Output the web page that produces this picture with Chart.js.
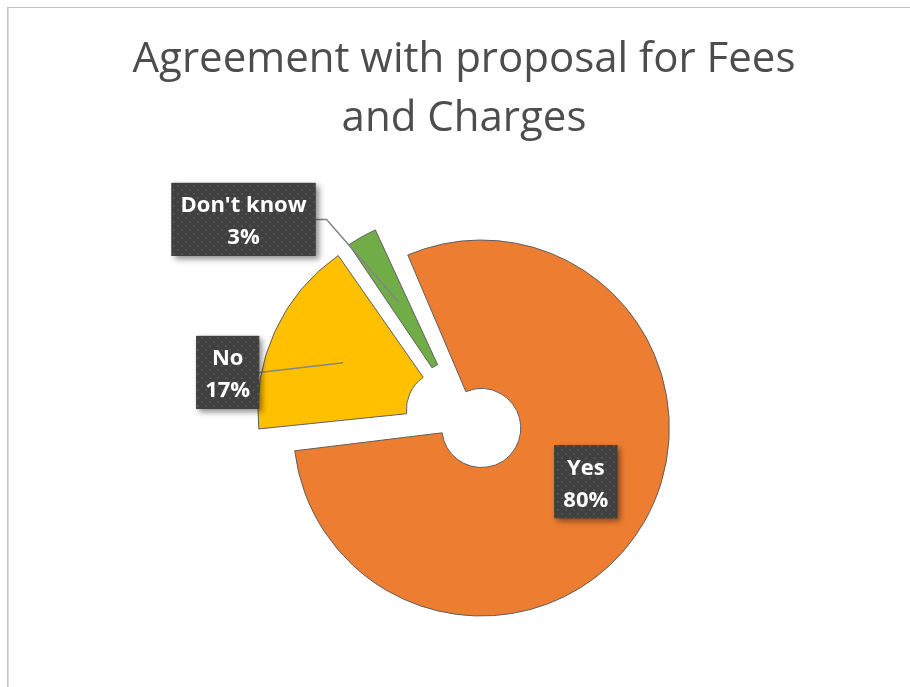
<!DOCTYPE html>
<html><head><meta charset="utf-8">
<script src="https://cdn.jsdelivr.net/npm/chart.js@4/dist/chart.umd.min.js"></script>
<style>html,body{margin:0;padding:0;background:#fff;} #wrap{width:910px;height:687px;position:relative;}</style>
</head><body><div id="wrap"><canvas id="c" width="910" height="687"></canvas></div>
<script>
const categories = ["Yes", "No", "Don't know"];
const percentValues = [80, 17, 3];
const titleLines = ["Agreement with proposal for Fees", "and Charges"];
const sliceColors = ["#ED7D31", "#FFC000", "#70AD47"];

const EXPLODE = 20;           // px translation of each exploded slice
const OUTER_R = 188;
const LABEL_FONT = 'bold 22px "Open Sans"';
const labelPlacement = [
  {angle: -2.8, dist: 0.625, leader: false},
  {angle: -14.9, dist: 1.177, leader: true, anchor: 0.6, elbow: 0},
  {angle: -19.9, dist: 1.478, leader: true, anchor: 0.6, elbow: 11}
];

function makePattern(ctx) {
  const t = document.createElement('canvas');
  t.width = 8; t.height = 8;
  const c = t.getContext('2d');
  c.fillStyle = '#404040'; c.fillRect(0, 0, 8, 8);
  c.fillStyle = '#525252';
  c.fillRect(1, 1, 2, 2);
  c.fillRect(5, 5, 2, 2);
  return ctx.createPattern(t, 'repeat');
}

const frame = {
  id: 'frame',
  beforeDraw(chart) {
    const ctx = chart.ctx;
    ctx.save();
    ctx.fillStyle = '#fff'; ctx.fillRect(0, 0, chart.width, chart.height);
    ctx.fillStyle = '#c4c4c4';
    ctx.fillRect(7, 7, chart.width - 7, 1);
    ctx.fillRect(7, 7, 1, chart.height - 7);
    ctx.fillStyle = '#dadada';
    ctx.fillRect(8, 8, 1, chart.height - 8);
    ctx.restore();
  }
};

// keep exploded slices at the same radius (Chart.js grows large arcs by their offset)
function radiusGrowth(arc) {
  const off = (arc.options.offset || 0) / 4;
  const fix = 1 - Math.sin(Math.min(Math.PI, arc.circumference || 0));
  return off * fix;
}
const explodeFix = {
  id: 'explodeFix',
  afterDatasetUpdate(chart, args) {
    args.meta.data.forEach(arc => {
      const g = radiusGrowth(arc);
      arc.outerRadius -= g;
      if (arc.innerRadius > 0) arc.innerRadius -= g;
    });
  }
};

const labels = {
  id: 'sliceLabels',
  afterDatasetsDraw(chart) {
    const ctx = chart.ctx;
    const meta = chart.getDatasetMeta(0);
    const pattern = makePattern(ctx);
    ctx.save();
    ctx.font = LABEL_FONT;
    const boxes = meta.data.map((arc, i) => {
      const p = labelPlacement[i];
      const mid = (arc.startAngle + arc.endAngle) / 2;
      const R = arc.outerRadius + radiusGrowth(arc);
      const sx = arc.x + Math.cos(mid) * EXPLODE;
      const sy = arc.y + Math.sin(mid) * EXPLODE;
      const a = mid + p.angle * Math.PI / 180;
      const lx = sx + Math.cos(a) * p.dist * R;
      const ly = sy + Math.sin(a) * p.dist * R;
      const lines = [categories[i], percentValues[i] + '%'];
      const w = Math.max(...lines.map(l => ctx.measureText(l).width)) + 18;
      const h = 73;
      return {i, p, mid, R, sx, sy, lx, ly, lines, w, h};
    });
    // leader lines
    ctx.strokeStyle = '#858585';
    ctx.lineWidth = 1.5;
    boxes.forEach(b => {
      if (!b.p.leader) return;
      const ax = b.sx + Math.cos(b.mid) * b.p.anchor * b.R;
      const ay = b.sy + Math.sin(b.mid) * b.p.anchor * b.R;
      const x0 = b.lx + b.w / 2;
      ctx.beginPath();
      ctx.moveTo(x0, b.ly);
      if (b.p.elbow) ctx.lineTo(x0 + b.p.elbow, b.ly);
      ctx.lineTo(ax, ay);
      ctx.stroke();
    });
    // boxes
    boxes.forEach(b => {
      const x = b.lx - b.w / 2, y = b.ly - b.h / 2;
      ctx.save();
      ctx.shadowColor = 'rgba(0,0,0,0.45)';
      ctx.shadowBlur = 6;
      ctx.shadowOffsetX = 3;
      ctx.shadowOffsetY = 3;
      ctx.fillStyle = '#404040';
      ctx.fillRect(x, y, b.w, b.h);
      ctx.restore();
      ctx.fillStyle = pattern;
      ctx.fillRect(x, y, b.w, b.h);
      ctx.fillStyle = '#ffffff';
      ctx.textAlign = 'center';
      ctx.textBaseline = 'alphabetic';
      ctx.fillText(b.lines[0], b.lx, b.ly - 7);
      ctx.fillText(b.lines[1], b.lx, b.ly + 25);
    });
    ctx.restore();
  }
};

function build() {
  new Chart(document.getElementById('c'), {
    type: 'doughnut',
    data: {
      labels: categories,
      datasets: [{
        data: percentValues,
        backgroundColor: sliceColors,
        borderColor: '#606060',
        borderWidth: 1,
        offset: EXPLODE * 4,
        hoverOffset: 0
      }]
    },
    options: {
      responsive: false,
      animation: false,
      events: [],
      rotation: -24,
      cutout: '21%',
      radius: OUTER_R,
      layout: {padding: {left: 18, right: 0, top: 0, bottom: 9.5}},
      plugins: {
        legend: {display: false},
        tooltip: {enabled: false},
        title: {
          display: true,
          text: titleLines,
          color: '#4d4d4d',
          font: {family: '"Open Sans"', size: 42, weight: 'normal', lineHeight: 1.405},
          padding: {top: 30.5, bottom: 10}
        }
      }
    },
    plugins: [frame, explodeFix, labels]
  });
}
const fontLoad = document.fonts ? Promise.all([
  document.fonts.load('bold 22px "Open Sans"'),
  document.fonts.load('42px "Open Sans"')
]).catch(() => {}) : Promise.resolve();
fontLoad.then(build, build);
</script>
</body></html>
